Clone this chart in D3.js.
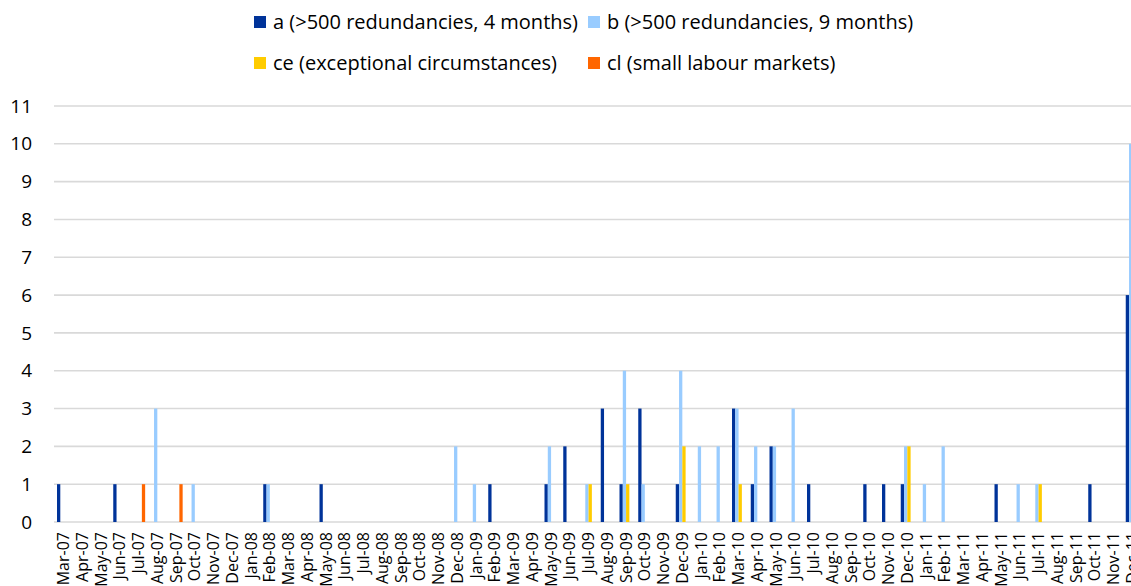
<!DOCTYPE html>
<html>
<head>
<meta charset="utf-8">
<script src="https://cdn.jsdelivr.net/npm/d3@7"></script>
<style>
  body { margin: 0; background: #fff; }
  svg { display: block; font-family: "Open Sans", sans-serif; }
</style>
</head>
<body>
<script>
// months on the x axis (Mar-07 .. Dec-11)
var months = ["Mar-07","Apr-07","May-07","Jun-07","Jul-07","Aug-07","Sep-07","Oct-07","Nov-07","Dec-07",
  "Jan-08","Feb-08","Mar-08","Apr-08","May-08","Jun-08","Jul-08","Aug-08","Sep-08","Oct-08","Nov-08","Dec-08",
  "Jan-09","Feb-09","Mar-09","Apr-09","May-09","Jun-09","Jul-09","Aug-09","Sep-09","Oct-09","Nov-09","Dec-09",
  "Jan-10","Feb-10","Mar-10","Apr-10","May-10","Jun-10","Jul-10","Aug-10","Sep-10","Oct-10","Nov-10","Dec-10",
  "Jan-11","Feb-11","Mar-11","Apr-11","May-11","Jun-11","Jul-11","Aug-11","Sep-11","Oct-11","Nov-11","Dec-11"];

var seriesKeys = ["a", "b", "ce", "cl"];
var seriesNames = ["a (>500 redundancies, 4 months)", "b (>500 redundancies, 9 months)",
  "ce (exceptional circumstances)", "cl (small labour markets)"];
var colors = ["#003399", "#99ccff", "#ffcc00", "#ff6600"];

// counts per month, one array per series
var aVals  = [1,0,0,1,0,0,0,0,0,0, 0,1,0,0,1,0,0,0,0,0,0,0, 0,1,0,0,1,2,0,3,1,3,0,1, 0,0,3,1,2,0,1,0,0,1,1,1, 0,0,0,0,1,0,0,0,0,1,0,6];
var bVals  = [0,0,0,0,0,3,0,1,0,0, 0,1,0,0,0,0,0,0,0,0,0,2, 1,0,0,0,2,0,1,0,4,1,0,4, 2,2,3,2,2,3,0,0,0,0,0,2, 1,2,0,0,0,1,1,0,0,0,0,10];
var ceVals = [0,0,0,0,0,0,0,0,0,0, 0,0,0,0,0,0,0,0,0,0,0,0, 0,0,0,0,0,0,1,0,1,0,0,2, 0,0,1,0,0,0,0,0,0,0,0,2, 0,0,0,0,0,0,1,0,0,0,0,0];
var clVals = [0,0,0,0,1,0,1,0,0,0, 0,0,0,0,0,0,0,0,0,0,0,0, 0,0,0,0,0,0,0,0,0,0,0,0, 0,0,0,0,0,0,0,0,0,0,0,0, 0,0,0,0,0,0,0,0,0,0,0,0];

var yTicks = [0,1,2,3,4,5,6,7,8,9,10,11];

var width = 1131, height = 586;

var rows = months.map(function (m, i) {
  return { month: m, a: aVals[i], b: bVals[i], ce: ceVals[i], cl: clVals[i] };
});

var svg = d3.select("body").append("svg")
  .attr("width", width)
  .attr("height", height);

// scales
var x0 = d3.scaleBand().domain(months).range([54.2, 1141.7]);
var x1 = d3.scaleBand().domain(seriesKeys).range([2.8, x0.bandwidth() - 2.8]);
var y = d3.scaleLinear().domain([0, 11]).range([522, 106]);

// gridlines
svg.append("g")
  .selectAll("line")
  .data(yTicks)
  .enter().append("line")
  .attr("x1", 54).attr("x2", width)
  .attr("y1", function (d) { return y(d); })
  .attr("y2", function (d) { return y(d); })
  .attr("stroke", "#d9d9d9")
  .attr("stroke-width", 1.6);

// y axis labels
var yAxis = svg.append("g")
  .attr("transform", "translate(40,0)")
  .call(d3.axisLeft(y).tickValues(yTicks).tickSize(0).tickPadding(8));
yAxis.select(".domain").remove();
yAxis.selectAll("text")
  .attr("font-family", "Open Sans, sans-serif")
  .attr("font-size", 19)
  .attr("fill", "#000");

// bars
var groups = svg.append("g")
  .selectAll("g")
  .data(rows)
  .enter().append("g")
  .attr("transform", function (d) { return "translate(" + x0(d.month) + ",0)"; });

groups.selectAll("rect")
  .data(function (d) {
    return seriesKeys.map(function (k) { return { key: k, value: d[k] }; });
  })
  .enter().append("rect")
  .filter(function (d) { return d.value > 0; })
  .attr("x", function (d) { return x1(d.key); })
  .attr("width", x1.bandwidth())
  .attr("y", function (d) { return y(d.value); })
  .attr("height", function (d) { return y(0) - y(d.value); })
  .attr("fill", function (d) { return colors[seriesKeys.indexOf(d.key)]; });

// x axis labels (rotated)
var xAxis = svg.append("g")
  .attr("transform", "translate(0," + 524 + ")")
  .call(d3.axisBottom(x0).tickSize(0).tickPadding(0));
xAxis.select(".domain").remove();
xAxis.selectAll("text")
  .attr("font-family", "Open Sans, sans-serif")
  .attr("font-size", 16)
  .attr("fill", "#000")
  .attr("text-anchor", "end")
  .attr("dy", "0.35em")
  .attr("transform", "translate(0,8) rotate(-90)")
  .attr("x", 0).attr("y", 0);

// legend
var legendPos = [[254, 22], [588, 22], [254, 63], [588, 63]];
var legend = svg.append("g")
  .selectAll("g")
  .data(seriesNames)
  .enter().append("g")
  .attr("transform", function (d, i) { return "translate(" + legendPos[i][0] + "," + legendPos[i][1] + ")"; });

legend.append("rect")
  .attr("x", 0).attr("y", -6)
  .attr("width", 12).attr("height", 12)
  .attr("fill", function (d, i) { return colors[i]; });

legend.append("text")
  .attr("x", 19)
  .attr("dy", "0.35em")
  .attr("font-size", 20)
  .attr("fill", "#000")
  .text(function (d) { return d; });
</script>
</body>
</html>
